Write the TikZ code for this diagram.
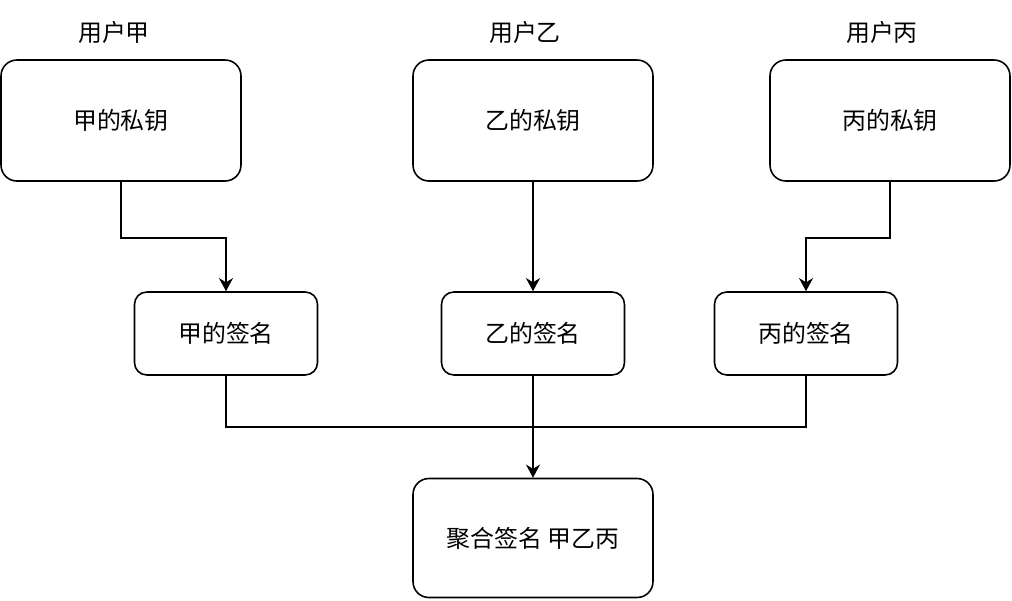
\documentclass[tikz,border=0pt]{standalone}
\usepackage{fontspec}
\newfontfamily\cjk{Noto Sans CJK SC}
\usetikzlibrary{positioning,arrows.meta,calc}

\tikzset{
    keybox/.style={draw, line width=0.9pt, rounded corners=9pt, minimum width=4.8cm, minimum height=2.42cm},
    signbox/.style={draw, line width=0.9pt, rounded corners=7pt, minimum width=3.66cm, minimum height=1.66cm},
    userlabel/.style={inner sep=0pt},
    link/.style={line width=0.9pt, -{Stealth[length=7.5pt, width=8pt]}}
}

\begin{document}
\begin{tikzpicture}[x=0.02cm, y=-0.02cm, font=\cjk\fontsize{13.6}{15}\selectfont]
    \useasboundingbox (0,0) rectangle (1012,600);

    % user labels
    \node[userlabel] (ua) at (114,32) {用户甲};
    \node[userlabel] (ub) at (525,32) {用户乙};
    \node[userlabel] (uc) at (882,32) {用户丙};

    % private keys
    \node[keybox] (ka) at (121,120.5) {甲的私钥};
    \node[keybox] (kb) at (533,120.5) {乙的私钥};
    \node[keybox] (kc) at (890,120.5) {丙的私钥};

    % signatures
    \node[signbox] (sa) at (226,333.5) {甲的签名};
    \node[signbox] (sb) at (533,333.5) {乙的签名};
    \node[signbox] (sc) at (806,333.5) {丙的签名};

    % aggregate
    \node[keybox, minimum height=2.38cm] (agg) at (533,538) {聚合签名 甲乙丙};

    % keys to signatures
    \draw[link] (ka.south) -- ++(0,56) -| (sa.north);
    \draw[link] (kb.south) -- (sb.north);
    \draw[link] (kc.south) -- ++(0,56) -| (sc.north);

    % signatures to aggregate
    \draw[line width=0.9pt] (sa.south) |- ($(sb.south)!0.5!(agg.north)$);
    \draw[line width=0.9pt] (sc.south) |- ($(sb.south)!0.5!(agg.north)$);
    \draw[link] (sb.south) -- (agg.north);
\end{tikzpicture}
\end{document}
